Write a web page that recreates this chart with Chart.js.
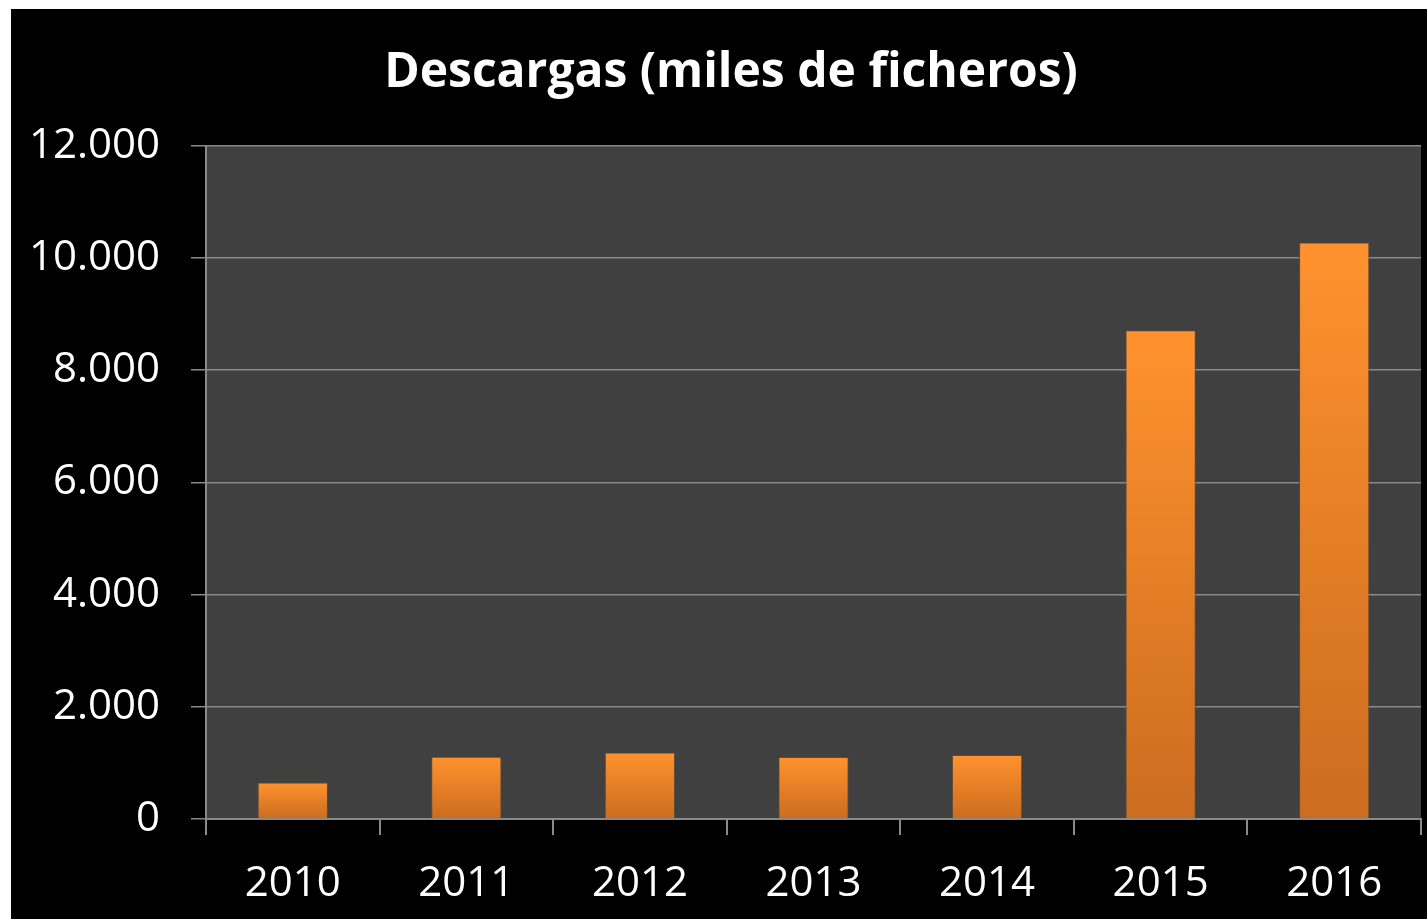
<!DOCTYPE html>
<html>
<head>
<meta charset="utf-8">
<script src="https://cdn.jsdelivr.net/npm/chart.js@4"></script>
<style>
  html, body { margin: 0; padding: 0; background: #fff; overflow: hidden; }
  #wrap { position: absolute; left: 11px; top: 9px; width: 1416px; height: 910px; background: #000; }
</style>
</head>
<body>
<div id="wrap"><canvas id="downloadsChart" width="1416" height="910"></canvas></div>
<script>
const years = ['2010', '2011', '2012', '2013', '2014', '2015', '2016'];
const downloads = [650, 1110, 1185, 1105, 1140, 8710, 10275];
const yTicks = [0, 2000, 4000, 6000, 8000, 10000, 12000];

const fontFamily = "'Open Sans', 'DejaVu Sans', sans-serif";

// dark plot background + let y labels use the left padding (title is centred a bit right)
const plotBackground = {
    id: 'plotBackground',
    afterLayout(chart) {
        chart.scales.y.left = 0;
    },
    beforeDraw(chart) {
        const { ctx, chartArea } = chart;
        ctx.save();
        ctx.fillStyle = '#404040';
        ctx.fillRect(chartArea.left, chartArea.top, chartArea.right - chartArea.left, chartArea.bottom - chartArea.top);
        ctx.restore();
    }
};

function barGradient(context) {
    const chart = context.chart;
    const { ctx, chartArea, scales } = chart;
    if (!chartArea) return '#f7902c';
    const top = scales.y.getPixelForValue(context.raw);
    const base = scales.y.getPixelForValue(0);
    const g = ctx.createLinearGradient(0, top, 0, base);
    g.addColorStop(0, '#ff922e');
    g.addColorStop(1, '#cb6c1f');
    return g;
}

const ctx = document.getElementById('downloadsChart').getContext('2d');
new Chart(ctx, {
    type: 'bar',
    data: {
        labels: years,
        datasets: [{
            label: 'Descargas',
            data: downloads,
            backgroundColor: barGradient,
            borderColor: 'rgba(95, 75, 55, 0.9)',
            borderWidth: 1,
            barPercentage: 0.405,
            categoryPercentage: 1
        }]
    },
    options: {
        responsive: false,
        animation: false,
        devicePixelRatio: 1,
        layout: { padding: { right: 6, left: 30, bottom: 0 } },
        plugins: {
            legend: { display: false },
            tooltip: { enabled: false },
            title: {
                display: true,
                text: 'Descargas (miles de ficheros)',
                color: '#ffffff',
                font: { family: fontFamily, size: 48, weight: 'bold', lineHeight: 1.2 },
                padding: { top: 36, bottom: 43 }
            }
        },
        scales: {
            x: {
                grid: {
                    display: true,
                    drawOnChartArea: false,
                    drawTicks: true,
                    tickLength: 16,
                    color: '#8a8a8a',
                    lineWidth: 2,
                    offset: true
                },
                border: { display: true, color: '#8a8a8a', width: 2 },
                ticks: {
                    color: '#ffffff',
                    font: { family: fontFamily, size: 42 },
                    padding: 24,
                    maxRotation: 0
                },
                afterFit(scale) { scale.height = 100; }
            },
            y: {
                min: 0,
                max: 12000,
                afterBuildTicks(scale) { scale.ticks = yTicks.map(v => ({ value: v })); },
                grid: {
                    color: '#8a8a8a',
                    lineWidth: 1.5,
                    drawTicks: true,
                    tickLength: 15
                },
                border: { display: true, color: '#8a8a8a', width: 2 },
                ticks: {
                    color: '#ffffff',
                    font: { family: fontFamily, size: 42 },
                    padding: 31,
                    callback: v => new Intl.NumberFormat('de-DE').format(v)
                },
                afterFit(scale) { scale.width = 165; }
            }
        }
    },
    plugins: [plotBackground]
});
</script>
</body>
</html>
